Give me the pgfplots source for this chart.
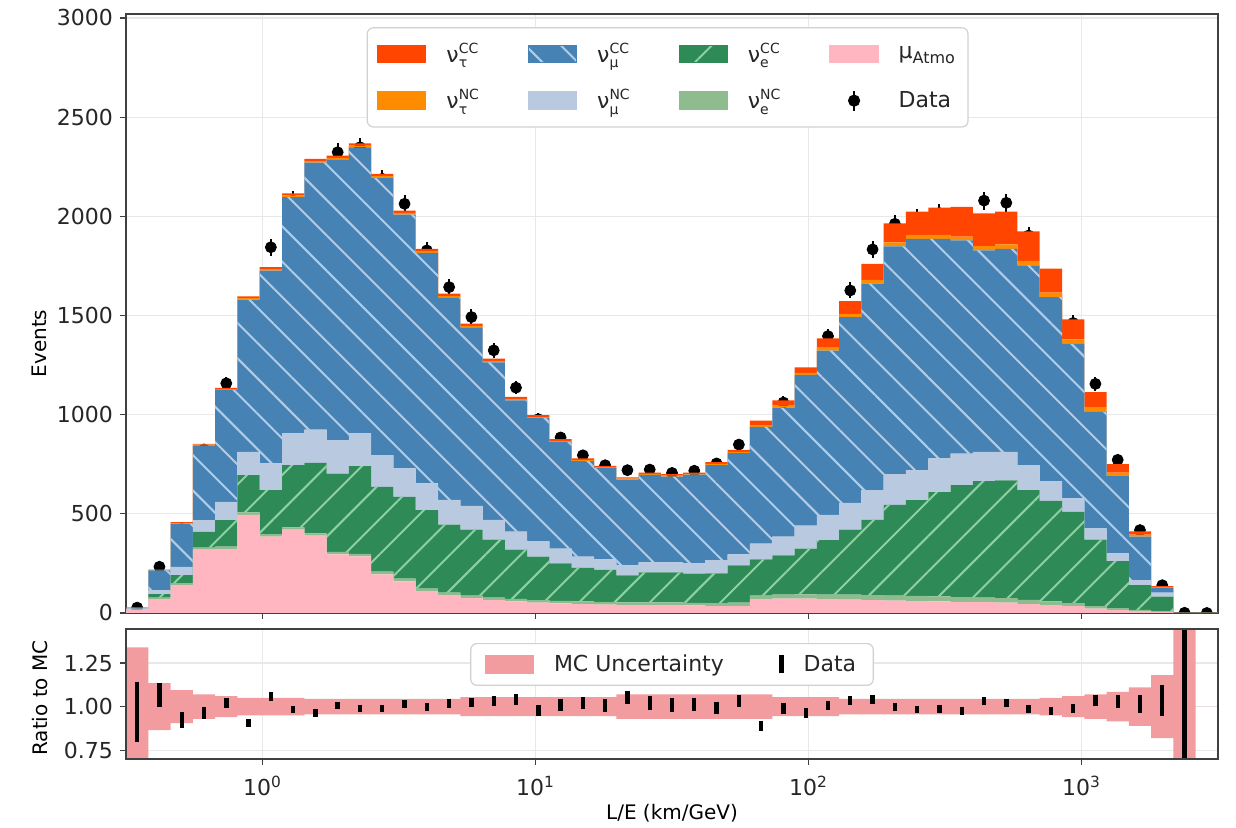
\documentclass[border=0pt]{standalone}
\usepackage{fontspec}
\setmainfont{DejaVu Sans}
\usepackage{pgfplots}
\pgfplotsset{compat=1.18}
\usepackage{pgfplotstable}
\usetikzlibrary{patterns.meta}

\definecolor{taucc}{HTML}{FF4500}
\definecolor{taunc}{HTML}{FF8C00}
\definecolor{mucc}{HTML}{4682B4}
\definecolor{munc}{HTML}{B9C9E0}
\definecolor{ecc}{HTML}{2E8B57}
\definecolor{enc}{HTML}{8FBC8F}
\definecolor{atmo}{HTML}{FFB6C1}
\definecolor{muhatch}{HTML}{B2CCE6}
\definecolor{ehatch}{HTML}{8ED0A2}
\definecolor{bandc}{HTML}{F39CA0}

% small script size for neutrino flavour / interaction labels
\newcommand{\ssz}{\fontsize{7}{8}\selectfont}
\newcommand{\nul}[2]{ν\raisebox{-2.6pt}{\rlap{\ssz #2}}\raisebox{4.6pt}{\ssz #1}}
\newcommand{\patch}[1]{\fill[#1, sharp corners] (0pt,-4.4pt) rectangle (24pt,4.4pt);}

% MC components per bin (k = bin index, 49 bins equal in log10(L/E) from -0.5 to 3.5)
\pgfplotstableread{
k atmo enc ecc munc mucc taunc taucc
0 18 1 2 2 3 1 1
1 70 8 17 20 100 2 2
2 140 10 41 42 218 3 4
3 320 10 79 59 377 4 4
4 322 12 134 92 565 4 6
5 495 12 188 117 768 7 9
6 385 12 222 135 972 8 10
7 420 12 313 160 1192 8 11
8 390 12 355 168 1345 8 11
9 295 13 395 168 1414 9 12
10 285 13 442 165 1442 9 12
11 195 13 428 160 1397 9 12
12 160 13 412 144 1279 9 12
13 110 13 395 135 1162 9 12
14 90 13 342 125 1019 9 12
15 75 13 332 120 900 8 11
16 65 13 292 100 794 7 11
17 58 13 249 90 662 7 10
18 52 13 219 78 620 6 9
19 48 13 189 75 537 6 8
20 45 13 170 56 482 5 8
21 42 13 162 53 460 5 7
22 40 13 137 50 432 5 7
23 40 13 152 50 441 5 7
24 40 13 152 50 433 5 7
25 38 13 147 52 447 5 6
26 35 15 150 67 479 6 8
27 35 17 188 55 511 6 11
28 70 18 182 80 588 7 25
29 72 20 198 95 650 10 27
30 72 22 231 115 760 10 28
31 70 23 274 128 828 17 45
32 68 24 328 135 937 16 64
33 65 25 380 150 1040 20 80
34 62 26 457 155 1148 20 96
35 60 26 483 151 1166 20 118
36 58 26 526 169 1107 20 138
37 55 25 565 159 1074 20 150
38 55 23 587 147 1016 22 165
39 52 23 594 143 1024 22 166
40 45 21 553 126 1007 23 149
41 40 18 507 100 927 23 121
42 35 15 460 68 779 23 100
43 22 12 336 56 588 25 75
44 15 10 237 38 390 18 42
45 10 6 125 25 219 10 17
46 5 4 73 21 22 5 5
47 0 0 0.1 0.1 0.4 0.1 0.1
48 0 0 0 0 0 0 0
49 0 0 0 0 0 0 0
}\mchist

% observed events, Poisson errors, data/MC ratio and its error
\pgfplotstableread{
k data err ratio rerr
0 27 5.2 0.970 0.170
1 233 15.3 1.065 0.068
2 423 20.6 0.925 0.045
3 824 28.7 0.966 0.034
4 1158 34.0 1.020 0.030
5 1442 38.0 0.905 0.024
6 1844 42.9 1.058 0.025
7 2080 45.6 0.983 0.022
8 2205 47.0 0.963 0.021
9 2323 48.2 1.008 0.021
10 2348 48.5 0.992 0.020
11 2189 46.8 0.989 0.021
12 2063 45.4 1.017 0.022
13 1828 42.8 0.996 0.023
14 1643 40.5 1.020 0.025
15 1492 38.6 1.023 0.026
16 1324 36.4 1.033 0.028
17 1136 33.7 1.043 0.031
18 977 31.3 0.980 0.031
19 885 29.7 1.010 0.034
20 795 28.2 1.020 0.036
21 745 27.3 1.004 0.037
22 720 26.8 1.053 0.039
23 723 26.9 1.021 0.038
24 706 26.6 1.009 0.038
25 717 26.8 1.013 0.038
26 754 27.5 0.992 0.036
27 849 29.1 1.032 0.035
28 863 29.4 0.890 0.030
29 1061 32.6 0.990 0.030
30 1193 34.5 0.964 0.028
31 1396 37.4 1.008 0.027
32 1626 40.3 1.034 0.026
33 1833 42.8 1.041 0.024
34 1962 44.3 0.999 0.023
35 1992 44.6 0.984 0.022
36 2016 44.9 0.986 0.022
37 1999 44.7 0.976 0.022
38 2079 45.6 1.032 0.023
39 2068 45.5 1.022 0.022
40 1903 43.6 0.989 0.023
41 1693 41.1 0.975 0.024
42 1462 38.2 0.988 0.026
43 1155 34.0 1.037 0.031
44 772 27.8 1.029 0.037
45 418 20.4 1.015 0.050
46 140 11.8 1.037 0.088
47 1 1.0 1.250 1.250
48 0 0 nan nan
}\obs

% MC uncertainty band per bin: lower edge and full width
\pgfplotstableread{
k lo w
0 0.66 0.68
1 0.865 0.27
2 0.905 0.19
3 0.93 0.14
4 0.94 0.12
5 0.95 0.10
6 0.95 0.10
7 0.95 0.10
8 0.955 0.09
9 0.955 0.09
10 0.955 0.09
11 0.955 0.09
12 0.955 0.09
13 0.955 0.09
14 0.955 0.09
15 0.945 0.11
16 0.945 0.11
17 0.945 0.11
18 0.945 0.11
19 0.945 0.11
20 0.945 0.11
21 0.945 0.11
22 0.93 0.14
23 0.93 0.14
24 0.93 0.14
25 0.93 0.14
26 0.93 0.14
27 0.93 0.14
28 0.93 0.14
29 0.945 0.11
30 0.945 0.11
31 0.945 0.11
32 0.955 0.09
33 0.955 0.09
34 0.955 0.09
35 0.955 0.09
36 0.955 0.09
37 0.955 0.09
38 0.955 0.09
39 0.955 0.09
40 0.955 0.09
41 0.95 0.10
42 0.94 0.12
43 0.93 0.14
44 0.915 0.17
45 0.89 0.22
46 0.82 0.36
47 0.5 1.5
48 1 0
49 1 0
}\mcband

\begin{document}
\begin{tikzpicture}
\path[use as bounding box] (0,0) rectangle (618pt,414pt);

% ---------------- stacked event histogram ----------------
\begin{axis}[
  at={(63pt,107.5pt)}, anchor=south west,
  scale only axis, width=546pt, height=299.5pt,
  xmode=log, xmin=0.316228, xmax=3162.28,
  ymin=0, ymax=3020,
  xtick={1,10,100,1000}, minor xtick={}, xticklabels={},
  minor x tick style={draw=none},
  ytick={0,500,1000,1500,2000,2500,3000},
  yticklabels={0,500,1000,1500,2000,2500,3000},
  grid=major, major grid style={draw=black!9, line width=0.6pt},
  tick align=outside, xtick pos=left, ytick pos=left,
  major tick length=3pt,
  tick style={black!75, line width=0.6pt},
  axis line style={black!75, line width=1pt},
  tick label style={font=\fontsize{11}{13}\selectfont, text=black!85},
  label style={font=\fontsize{11}{13}\selectfont, text=black!85},
  clip marker paths=true,
  stack plots=y,
  ylabel={Events},
  every axis y label/.style={at={(axis description cs:-0.079,0.45)}, anchor=center, rotate=90},
  legend columns=4,
  legend style={at={(0.496,0.978)}, anchor=north, row sep=9pt,
    draw=black!18, line width=0.6pt, rounded corners=3pt,
    fill=white, font=\fontsize{11}{13}\selectfont, text=black!85,
    cells={anchor=west}, nodes={inner sep=1.5pt},
    inner xsep=5pt, inner ysep=6pt,
    /tikz/every odd column/.append style={column sep=8.5pt},
    /tikz/every even column/.append style={column sep=23pt}},
]
\addplot[const plot, fill=atmo, draw=none, forget plot]
  table[x expr={10^(-0.5+4*\thisrow{k}/49)}, y=atmo]{\mchist} \closedcycle;
\addplot[const plot, fill=enc, draw=none, forget plot]
  table[x expr={10^(-0.5+4*\thisrow{k}/49)}, y=enc]{\mchist} \closedcycle;
\addplot[const plot, fill=ecc, draw=none, forget plot,
  postaction={pattern={Lines[angle=45,distance=12.5pt,line width=1pt]}, pattern color=ehatch}]
  table[x expr={10^(-0.5+4*\thisrow{k}/49)}, y=ecc]{\mchist} \closedcycle;
\addplot[const plot, fill=munc, draw=none, forget plot]
  table[x expr={10^(-0.5+4*\thisrow{k}/49)}, y=munc]{\mchist} \closedcycle;
\addplot[const plot, fill=mucc, draw=none, forget plot,
  postaction={pattern={Lines[angle=-45,distance=12.5pt,line width=1pt]}, pattern color=muhatch}]
  table[x expr={10^(-0.5+4*\thisrow{k}/49)}, y=mucc]{\mchist} \closedcycle;
\addplot[const plot, fill=taunc, draw=none, forget plot]
  table[x expr={10^(-0.5+4*\thisrow{k}/49)}, y=taunc]{\mchist} \closedcycle;
\addplot[const plot, fill=taucc, draw=none, forget plot]
  table[x expr={10^(-0.5+4*\thisrow{k}/49)}, y=taucc]{\mchist} \closedcycle;

% observed events
\addplot[stack plots=false, forget plot, black, only marks, mark=*, mark size=2.75pt,
  error bars/.cd, y dir=both, y explicit, error mark=none,
  error bar style={line width=1pt, black}]
  table[x expr={10^(-0.5+4*(\thisrow{k}+0.5)/49)}, y=data, y error=err]{\obs};

\draw[black!75, line width=1pt] (rel axis cs:0,0) rectangle (rel axis cs:1,1);

\addlegendimage{legend image code/.code={\patch{taucc}}}
\addlegendentry{\nul{CC}{τ}}
\addlegendimage{legend image code/.code={\patch{mucc, postaction={pattern={Lines[angle=-45,distance=12.5pt,line width=1pt]}, pattern color=muhatch}}}}
\addlegendentry{\nul{CC}{μ}}
\addlegendimage{legend image code/.code={\patch{ecc, postaction={pattern={Lines[angle=45,distance=12.5pt,line width=1pt]}, pattern color=ehatch}}}}
\addlegendentry{\nul{CC}{e}}
\addlegendimage{legend image code/.code={\patch{atmo}}}
\addlegendentry{μ\raisebox{-2.6pt}{\fontsize{8}{9}\selectfont Atmo}}
\addlegendimage{legend image code/.code={\patch{taunc}}}
\addlegendentry{\nul{NC}{τ}}
\addlegendimage{legend image code/.code={\patch{munc}}}
\addlegendentry{\nul{NC}{μ}}
\addlegendimage{legend image code/.code={\patch{enc}}}
\addlegendentry{\nul{NC}{e}}
\addlegendimage{legend image code/.code={\draw[black, line width=1pt, sharp corners] (12pt,-5pt) -- (12pt,5pt); \fill[black] (12pt,0pt) circle (2.75pt);}}
\addlegendentry{Data}
\end{axis}

% ---------------- ratio panel, background: grid and MC uncertainty band ----------------
\begin{axis}[
  at={(63pt,34.5pt)}, anchor=south west,
  scale only axis, width=546pt, height=65pt,
  xmode=log, xmin=0.316228, xmax=3162.28,
  ymin=0.7, ymax=1.445,
  xtick={1,10,100,1000}, minor xtick={}, xticklabels={},
  minor x tick style={draw=none},
  ytick={0.75,1,1.25}, yticklabels={},
  grid=major, major grid style={draw=black!9, line width=0.6pt},
  major tick length=0pt, axis line style={draw=none},
  stack plots=y,
]
\addplot[draw=none, const plot, forget plot]
  table[x expr={10^(-0.5+4*\thisrow{k}/49)}, y=lo]{\mcband};
\addplot[fill=bandc, draw=none, const plot, forget plot]
  table[x expr={10^(-0.5+4*\thisrow{k}/49)}, y=w]{\mcband} \closedcycle;
\end{axis}

% ---------------- ratio panel, foreground: data/MC and axes ----------------
\begin{axis}[
  at={(63pt,34.5pt)}, anchor=south west,
  scale only axis, width=546pt, height=65pt,
  xmode=log, xmin=0.316228, xmax=3162.28,
  ymin=0.7, ymax=1.445,
  xtick={1,10,100,1000}, minor xtick={},
  minor x tick style={draw=none},
  xticklabels={10\textsuperscript{0},10\textsuperscript{1},10\textsuperscript{2},10\textsuperscript{3}},
  ytick={0.75,1,1.25}, yticklabels={0.75,1.00,1.25},
  tick align=outside, xtick pos=left, ytick pos=left,
  major tick length=3pt,
  tick style={black!75, line width=0.6pt},
  axis line style={black!75, line width=1pt},
  tick label style={font=\fontsize{11}{13}\selectfont, text=black!85},
  label style={font=\fontsize{11}{13}\selectfont, text=black!85},
  xticklabel style={yshift=-2pt},
  xlabel={L/E (km/GeV)}, ylabel={Ratio to MC},
  every axis y label/.style={at={(axis description cs:-0.079,0.47)}, anchor=center, rotate=90},
  every axis x label/.style={at={(axis description cs:0.5,-0.415)}, anchor=center},
  clip marker paths=true,
  legend columns=2,
  legend style={at={(0.5,0.892)}, anchor=north,
    draw=black!18, line width=0.6pt, rounded corners=3pt,
    fill=white, font=\fontsize{11}{13}\selectfont, text=black!85,
    cells={anchor=west}, nodes={inner sep=1.5pt},
    inner xsep=7pt, inner ysep=4pt,
    /tikz/every odd column/.append style={column sep=8.5pt},
    /tikz/every even column/.append style={column sep=26pt}},
]
% data/MC: vertical bars of half-length rerr (87.25pt per unit ratio)
\addplot[forget plot, only marks, mark=|,
  scatter, scatter/use mapped color={draw=black, fill=black},
  visualization depends on={87.25*\thisrow{rerr} \as \perr},
  scatter/@pre marker code/.append style={/tikz/mark size=\perr},
  mark options={line width=2.2pt}]
  table[x expr={10^(-0.5+4*(\thisrow{k}+0.5)/49)}, y=ratio]{\obs};

\draw[black!75, line width=1pt] (rel axis cs:0,0) rectangle (rel axis cs:1,1);

\addlegendimage{legend image code/.code={\patch{bandc}}}
\addlegendentry{MC Uncertainty}
\addlegendimage{legend image code/.code={\draw[black, line width=2.4pt, sharp corners] (12pt,-4.5pt) -- (12pt,4.5pt);}}
\addlegendentry{Data}
\end{axis}
\end{tikzpicture}
\end{document}
